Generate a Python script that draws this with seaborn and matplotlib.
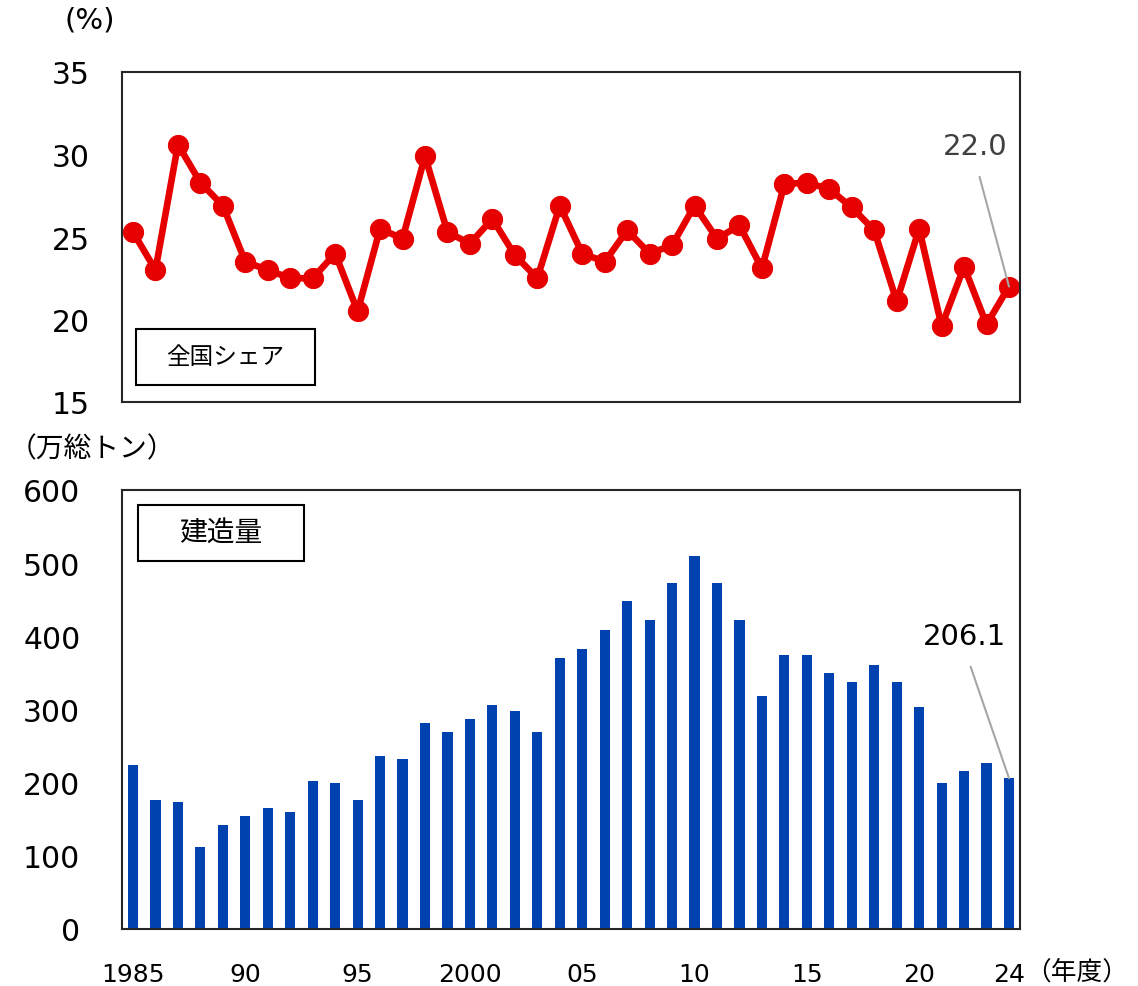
import numpy as np
import pandas as pd
import matplotlib
matplotlib.use("Agg")
import matplotlib.pyplot as plt
from matplotlib.patches import Rectangle
import seaborn as sns

# ---- data ----
years = list(range(1985, 2025))
share = [25.3, 23.0, 30.6, 28.3, 26.9, 23.5, 23.0, 22.5, 22.5, 24.0,
         20.5, 25.5, 24.9, 29.9, 25.3, 24.6, 26.1, 23.9, 22.5, 26.9,
         24.0, 23.5, 25.4, 24.0, 24.5, 26.9, 24.9, 25.7, 23.1, 28.2,
         28.3, 27.9, 26.8, 25.4, 21.1, 25.5, 19.6, 23.2, 19.7, 22.0]
tonnage = [224.6, 176.3, 173.6, 111.6, 142.6, 154.0, 165.0, 159.5, 201.8, 199.0,
           176.3, 236.0, 233.0, 281.0, 269.7, 287.0, 306.6, 298.0, 269.7, 371.0,
           382.7, 408.6, 447.7, 422.3, 473.3, 510.0, 473.3, 422.3, 318.0, 374.5,
           374.5, 349.4, 337.6, 360.4, 337.6, 303.4, 199.0, 216.0, 227.3, 206.1]
xtick_vals = [1985, 1990, 1995, 2000, 2005, 2010, 2015, 2020, 2024]
xtick_labels = ["1985", "90", "95", "2000", "05", "10", "15", "20", "24"]
top_yticks = [15, 20, 25, 30, 35]
bot_yticks = [0, 100, 200, 300, 400, 500, 600]
share_label = "全国シェア"
tonnage_label = "建造量"
share_unit = "(%)"
tonnage_unit = "（万総トン）"
year_unit = "（年度）"

df_share = pd.DataFrame({"year": years, "share": share})
df_ton = pd.DataFrame({"year": years, "tonnage": tonnage})

# ---- style ----
sns.set_style("white")
plt.rcParams["font.family"] = ["DejaVu Sans", "Noto Sans CJK JP"]
plt.rcParams["text.color"] = "black"
plt.rcParams["xtick.color"] = "black"
plt.rcParams["ytick.color"] = "black"
CJK = ["Noto Sans CJK JP", "DejaVu Sans"]

RED = "#E60000"
BLUE = "#0041B0"
W, H = 1138, 987
fig = plt.figure(figsize=(W / 100, H / 100), dpi=100)

def ax_rect(l, t, r, b):
    return [l / W, 1 - b / H, (r - l) / W, (b - t) / H]

ax1 = fig.add_axes(ax_rect(122, 73, 1020, 403))
ax2 = fig.add_axes(ax_rect(122, 491, 1020, 930))

xlim = (1984.51, 2024.49)

# ---- top: share line ----
sns.lineplot(data=df_share, x="year", y="share", ax=ax1, color=RED,
             linewidth=4.8, marker="o", markersize=14.5,
             markeredgecolor=RED, markerfacecolor=RED)
ax1.set_xlim(*xlim)
ax1.set_ylim(15, 35)
ax1.set_yticks(top_yticks)
ax1.set_yticklabels([str(v) for v in top_yticks], fontsize=21.5)
ax1.set_xticks([])
ax1.set_xlabel("")
ax1.set_ylabel("")
ax1.tick_params(axis="y", length=0, pad=23, labelcolor="black")

# ---- bottom: tonnage bars ----
sns.barplot(data=df_ton, x="year", y="tonnage", ax=ax2, native_scale=True,
            color=BLUE, saturation=1, width=0.45, linewidth=0, edgecolor="none")
ax2.set_xlim(*xlim)
ax2.set_ylim(0, 600)
ax2.set_yticks(bot_yticks)
ax2.set_yticklabels([str(v) for v in bot_yticks], fontsize=21.5)
ax2.set_xticks(xtick_vals)
ax2.set_xticklabels(xtick_labels, fontsize=18)
ax2.set_xlabel("")
ax2.set_ylabel("")
ax2.tick_params(axis="y", length=0, pad=30, labelcolor="black")
ax2.tick_params(axis="x", length=0, pad=24, labelcolor="black")

for ax in (ax1, ax2):
    for sp in ax.spines.values():
        sp.set_visible(True)
        sp.set_color("#262626")
        sp.set_linewidth(1.5)

# ---- label boxes ----
def label_box(ax, l, t, r, b, text, fs):
    bb = ax.get_position()
    ax_l, ax_b = bb.x0 * W, (1 - bb.y1) * H
    ax_w, ax_h = bb.width * W, bb.height * H
    x0 = (l - ax_l) / ax_w
    y0 = 1 - (b - ax_b) / ax_h
    w = (r - l) / ax_w
    h = (b - t) / ax_h
    ax.add_patch(Rectangle((x0, y0), w, h, transform=ax.transAxes,
                           facecolor="white", edgecolor="black", linewidth=1.5,
                           zorder=5))
    ax.text(x0 + w / 2, y0 + h / 2, text, transform=ax.transAxes,
            ha="center", va="center", fontsize=fs, color="black", zorder=6,
            family=CJK)

label_box(ax1, 136, 330, 315, 386, share_label, 17)
label_box(ax2, 138, 506, 304, 562, tonnage_label, 20)

# ---- annotations ----
ax1.annotate(f"{share[-1]:.1f}", xy=(years[-1], share[-1]),
             xytext=(2022.49, 30.5), textcoords="data",
             ha="center", va="center", fontsize=21, color="#404040",
             arrowprops=dict(arrowstyle="-", color="#A6A6A6", lw=1.5,
                             relpos=(0.5, 0.0), shrinkA=10, shrinkB=0))
ax2.annotate(f"{tonnage[-1]:.1f}", xy=(years[-1], tonnage[-1]),
             xytext=(2022.04, 400), textcoords="data",
             ha="center", va="center", fontsize=21, color="black",
             arrowprops=dict(arrowstyle="-", color="#A6A6A6", lw=1.5,
                             relpos=(0.5, 0.0), shrinkA=10, shrinkB=0))

# ---- unit labels ----
fig.text(90 / W, 1 - 21 / H, share_unit, ha="center", va="center", fontsize=21)
fig.text(92 / W, 1 - 449 / H, tonnage_unit, ha="center", va="center", fontsize=20,
         family=CJK)
fig.text(1077 / W, 1 - 973 / H, year_unit, ha="center", va="center", fontsize=18.5,
         family=CJK)

fig.savefig("out.png", dpi=100)
